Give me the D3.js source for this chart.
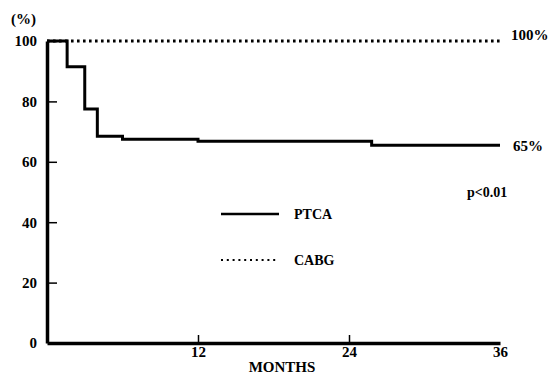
<!DOCTYPE html>
<html>
<head>
<meta charset="utf-8">
<script src="https://cdn.jsdelivr.net/npm/d3@7"></script>
<style>
  body { margin: 0; background: #fff; }
</style>
</head>
<body>
<div id="chart"></div>
<script>
// step points (months, % event-free)
var ptcaMonths = [0, 1.6, 3, 4, 6, 12, 25.8, 36];
var ptcaValues = [100, 91.5, 77.5, 68.5, 67.5, 66.8, 65.5, 65.5];
var cabgMonths = [0, 36];
var cabgValues = [100, 100];
var xTicks = [12, 24, 36];
var yTicks = [0, 20, 40, 60, 80, 100];

var width = 550, height = 374;
var font_size = 15;
var font = "'Liberation Serif', 'Times New Roman', serif";

var svg = d3.select("#chart")
  .append("svg")
    .attr("width", width)
    .attr("height", height)
    .attr("font-family", font)
    .attr("font-weight", "bold");

var x = d3.scaleLinear().domain([0, 36]).range([47, 500]);
var y = d3.scaleLinear().domain([0, 100]).range([343, 41]);

var cabg = cabgMonths.map(function(m, i) { return [m, cabgValues[i]]; });
var ptca = ptcaMonths.map(function(m, i) { return [m, ptcaValues[i]]; });

var line = d3.line()
  .x(function(d) { return x(d[0]); })
  .y(function(d) { return y(d[1]); });

// CABG dotted line (drawn first, PTCA covers the start)
svg.append("path")
  .datum(cabg)
  .attr("d", line)
  .attr("fill", "none")
  .attr("stroke", "#000")
  .attr("stroke-width", 2.8)
  .attr("stroke-dasharray", "2.6,3.4");

svg.append("path")
  .datum(ptca)
  .attr("d", line.curve(d3.curveStepAfter))
  .attr("fill", "none")
  .attr("stroke", "#000")
  .attr("stroke-width", 3);

// Y axis, ticks point inward
var yAxis = svg.append("g")
  .attr("transform", "translate(" + x(0) + ",0)")
  .call(d3.axisLeft(y).tickValues(yTicks).tickSizeInner(-10).tickSizeOuter(0).tickPadding(10));
yAxis.attr("font-family", font).attr("font-size", font_size);
yAxis.select(".domain").attr("stroke-width", 3.5);
yAxis.selectAll(".tick line").attr("stroke-width", 1.5)
  .filter(function(d) { return d === 0; }).remove();
yAxis.selectAll("text").attr("fill", "#000");

// X axis
var xAxis = svg.append("g")
  .attr("transform", "translate(0," + y(0) + ")")
  .call(d3.axisBottom(x).tickValues(xTicks).tickSizeInner(-8).tickSizeOuter(0).tickPadding(3));
xAxis.attr("font-family", font).attr("font-size", font_size);
xAxis.select(".domain").attr("stroke-width", 3.5);
xAxis.selectAll(".tick line").attr("stroke-width", 1.5)
  .filter(function(d) { return d === 36; }).remove();
xAxis.selectAll("text").attr("fill", "#000");

// labels
svg.append("text").attr("x", 11).attr("y", 24).attr("font-size", font_size).text("(%)");
svg.append("text").attr("x", 282).attr("y", 372).attr("font-size", font_size)
  .attr("text-anchor", "middle").text("MONTHS");
svg.append("text").attr("x", 511).attr("y", 40).attr("font-size", font_size).text("100%");
svg.append("text").attr("x", 513).attr("y", 151).attr("font-size", font_size).text("65%");
svg.append("text").attr("x", 467).attr("y", 197).attr("font-size", 14).text("p<0.01");

// legend
svg.append("line").attr("x1", 221).attr("x2", 279).attr("y1", 214).attr("y2", 214)
  .attr("stroke", "#000").attr("stroke-width", 2.4);
svg.append("text").attr("x", 294).attr("y", 219).attr("font-size", 14).text("PTCA");
svg.append("line").attr("x1", 221).attr("x2", 279).attr("y1", 260).attr("y2", 260)
  .attr("stroke", "#000").attr("stroke-width", 2.2).attr("stroke-dasharray", "2,3.8");
svg.append("text").attr("x", 294).attr("y", 265).attr("font-size", 14).text("CABG");
</script>
</body>
</html>
